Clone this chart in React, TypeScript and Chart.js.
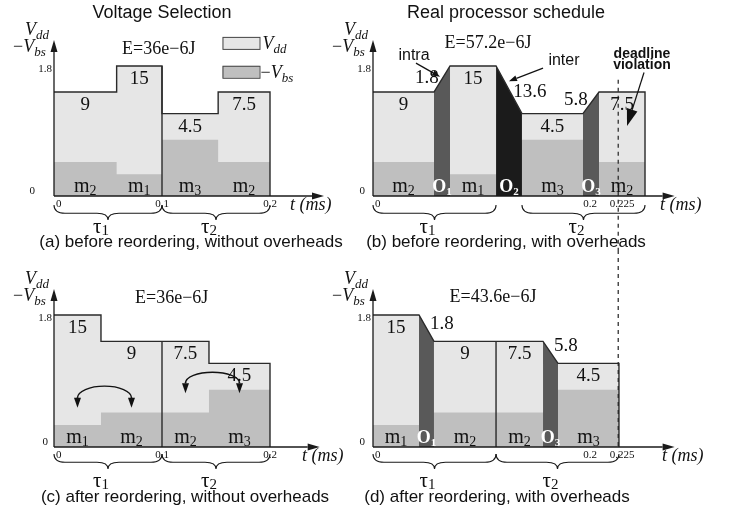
import React, { useEffect, useRef } from "react";
import { Chart, registerables } from "chart.js";
Chart.register(...registerables);

// ---------------- DATA ----------------
const modeNames = ["m1", "m2", "m3"];
const modeVdd = [1.8, 1.44, 1.14]; // Vdd level of each mode
const modeVbs = [0.3, 0.47, 0.78]; // -Vbs level of each mode

// (a) before reordering, without overheads
const aStarts = [0, 0.058, 0.1, 0.152];
const aEnds = [0.058, 0.1, 0.152, 0.2];
const aModes = ["m2", "m1", "m3", "m2"];
const aEnergies = ["9", "15", "4.5", "7.5"];
const aKinds = ["task", "task", "task", "task"];

// (b) before reordering, with overheads
const bStarts = [0, 0.0562, 0.071, 0.1134, 0.1373, 0.1935, 0.2083];
const bEnds = [0.0562, 0.071, 0.1134, 0.1373, 0.1935, 0.2083, 0.2507];
const bModes = ["m2", "O1", "m1", "O2", "m3", "O3", "m2"];
const bEnergies = ["9", "1.8", "15", "13.6", "4.5", "5.8", "7.5"];
const bKinds = ["task", "intra", "task", "inter", "task", "intra", "task"];

// (c) after reordering, without overheads
const cStarts = [0, 0.0435, 0.1, 0.1435];
const cEnds = [0.0435, 0.1, 0.1435, 0.2];
const cModes = ["m1", "m2", "m2", "m3"];
const cEnergies = ["15", "9", "7.5", "4.5"];
const cKinds = ["task", "task", "task", "task"];

// (d) after reordering, with overheads
const dStarts = [0, 0.0424, 0.0562, 0.1134, 0.1567, 0.1705];
const dEnds = [0.0424, 0.0562, 0.1134, 0.1567, 0.1705, 0.2267];
const dModes = ["m1", "O1", "m2", "m2", "O3", "m3"];
const dEnergies = ["15", "1.8", "9", "7.5", "5.8", "4.5"];
const dKinds = ["task", "intra", "task", "task", "intra", "task"];

const totalEnergies = ["E=36e\u22126J", "E=57.2e\u22126J", "E=36e\u22126J", "E=43.6e\u22126J"];
const acTicks = [0, 0.1, 0.2];
const acTickLabels = ["0", "0.1", "0.2"];
const bdTicks = [0, 0.2, 0.226];
const bdTickLabels = ["0", "0.2", "0.225"];
const yTicks = [0, 1.8];
const yTickLabels = ["0", "1.8"];
const acBraces = [[0, 0.1], [0.1, 0.2]];
const bBraces = [[0, 0.1134], [0.1373, 0.2507]];
const dBraces = [[0, 0.1134], [0.1134, 0.2267]];
const taskIds = ["1", "2"];
const acDividers = [0.1];
const dDividers = [0.1134];
const deadline = 0.226;
const cSwapPairs = [[0, 1], [2, 3]];
const cSwapEnds = [0.67, 0.87];
const cSwapTops = [0.83, 1.02];
const titles = ["Voltage Selection", "Real processor schedule"];
const captions = [
  "(a) before reordering, without overheads",
  "(b) before reordering, with overheads",
  "(c) after reordering, without overheads",
  "(d) after reordering, with overheads",
];

// ---------------- STYLE ----------------
const SERIF = '"Liberation Serif", "DejaVu Serif", serif';
const SANS = '"Liberation Sans", Arial, sans-serif';
const LIGHT = "#e6e6e6";
const MID = "#bfbfbf";
const DARK = "#595959";
const BLACK = "#1b1b1b";
const LINE = "#2a2a2a";
const TXT = "#111111";
const NONE = "rgba(0,0,0,0)";

type Panel = {
  key: string;
  starts: number[]; ends: number[]; modes: string[]; energies: string[]; kinds: string[];
  ticks: number[]; tickLabels: string[]; braces: number[][]; dividers: number[];
  energy: string; energyPos: [number, number]; caption: string; title?: string;
  box: { left: number; top: number; w: number; h: number };
  pad: { left: number; top: number; bottom: number };
  ppm: number; xMax: number; axisEnd: number; tLabelX: number;
  titleDx: number; capDx: number; capDy: number; zeroDx: number;
  braceDy: number; tauDy: number;
};

const panels: Panel[] = [
  {
    key: "a", starts: aStarts, ends: aEnds, modes: aModes, energies: aEnergies, kinds: aKinds,
    ticks: acTicks, tickLabels: acTickLabels, braces: acBraces, dividers: acDividers,
    energy: totalEnergies[0], energyPos: [0.097, 2.035], caption: captions[0], title: titles[0],
    box: { left: 0, top: 0, w: 366, h: 250 }, pad: { left: 54, top: 66, bottom: 54 },
    ppm: 1080, xMax: 0.25, axisEnd: 0.25, tLabelX: 0.2185,
    titleDx: 108, capDx: 137, capDy: 46, zeroDx: 19, braceDy: 9, tauDy: 37,
  },
  {
    key: "b", starts: bStarts, ends: bEnds, modes: bModes, energies: bEnergies, kinds: bKinds,
    ticks: bdTicks, tickLabels: bdTickLabels, braces: bBraces, dividers: [],
    energy: totalEnergies[1], energyPos: [0.106, 2.12], caption: captions[1], title: titles[1],
    box: { left: 326, top: 0, w: 407, h: 250 }, pad: { left: 47, top: 66, bottom: 54 },
    ppm: 1085, xMax: 0.28, axisEnd: 0.278, tLabelX: 0.2645,
    titleDx: 133, capDx: 133, capDy: 46, zeroDx: 8, braceDy: 9, tauDy: 37,
  },
  {
    key: "c", starts: cStarts, ends: cEnds, modes: cModes, energies: cEnergies, kinds: cKinds,
    ticks: acTicks, tickLabels: acTickLabels, braces: acBraces, dividers: acDividers,
    energy: totalEnergies[2], energyPos: [0.109, 2.03], caption: captions[2],
    box: { left: 0, top: 250, w: 366, h: 266 }, pad: { left: 54, top: 65, bottom: 69 },
    ppm: 1080, xMax: 0.25, axisEnd: 0.246, tLabelX: 0.2296,
    titleDx: 0, capDx: 131, capDy: 50, zeroDx: 6, braceDy: 7, tauDy: 40,
  },
  {
    key: "d", starts: dStarts, ends: dEnds, modes: dModes, energies: dEnergies, kinds: dKinds,
    ticks: bdTicks, tickLabels: bdTickLabels, braces: dBraces, dividers: dDividers,
    energy: totalEnergies[3], energyPos: [0.1106, 2.045], caption: captions[3],
    box: { left: 326, top: 250, w: 407, h: 266 }, pad: { left: 47, top: 65, bottom: 69 },
    ppm: 1085, xMax: 0.28, axisEnd: 0.278, tLabelX: 0.2664,
    titleDx: 0, capDx: 124, capDy: 50, zeroDx: 8, braceDy: 7, tauDy: 40,
  },
];

// ---------------- HELPERS ----------------
type Seg = { s: number; e: number; m: string; k: string; en: string };
function segsOf(p: Panel): Seg[] {
  return p.starts.map((s, i) => ({ s, e: p.ends[i], m: p.modes[i], k: p.kinds[i], en: p.energies[i] }));
}
const vddOf = (m: string) => modeVdd[modeNames.indexOf(m)];
const vbsOf = (m: string) => modeVbs[modeNames.indexOf(m)];

function buildDatasets(p: Panel): any[] {
  const segs = segsOf(p);
  const tasks = segs.filter((g) => g.k === "task");
  const vddPts = tasks.flatMap((g) => [{ x: g.s, y: vddOf(g.m) }, { x: g.e, y: vddOf(g.m) }]);
  const vbsPts = tasks.flatMap((g) => [{ x: g.s, y: vbsOf(g.m) }, { x: g.e, y: vbsOf(g.m) }]);
  const base = { pointRadius: 0, tension: 0, clip: false as any };
  const ds: any[] = [
    { ...base, data: vddPts, fill: "origin", backgroundColor: LIGHT, borderColor: NONE, borderWidth: 0, order: 5 },
    { ...base, data: vbsPts, fill: "origin", backgroundColor: MID, borderColor: NONE, borderWidth: 0, order: 4 },
  ];
  segs.forEach((g, i) => {
    if (g.k === "task") return;
    const prev = segs[i - 1];
    const next = segs[i + 1];
    ds.push({
      ...base,
      data: [{ x: g.s, y: vddOf(prev.m) }, { x: g.e, y: vddOf(next.m) }],
      fill: "origin",
      backgroundColor: g.k === "inter" ? BLACK : DARK,
      borderColor: NONE, borderWidth: 0, order: 3,
    });
  });
  const last = segs[segs.length - 1];
  ds.push({ ...base, data: [...vddPts, { x: last.e, y: 0 }], fill: false, borderColor: LINE, borderWidth: 1.4, order: 0 });
  p.dividers.forEach((x) => {
    const h = Math.max(...tasks.filter((g) => g.s === x || g.e === x).map((g) => vddOf(g.m)));
    ds.push({ ...base, data: [{ x, y: 0 }, { x, y: h }], fill: false, borderColor: LINE, borderWidth: 1.4, order: 0 });
  });
  return ds;
}

type Run = { t: string; f: string; dy?: number };
function drawRuns(ctx: CanvasRenderingContext2D, x: number, y: number, runs: Run[], align: string, color: string) {
  let w = 0;
  for (const r of runs) { ctx.font = r.f; w += ctx.measureText(r.t).width; }
  let cx = align === "left" ? x : align === "center" ? x - w / 2 : x - w;
  ctx.fillStyle = color;
  ctx.textAlign = "left";
  ctx.textBaseline = "alphabetic";
  for (const r of runs) {
    ctx.font = r.f;
    ctx.fillText(r.t, cx, y + (r.dy || 0));
    cx += ctx.measureText(r.t).width;
  }
}
function text(ctx: CanvasRenderingContext2D, s: string, x: number, y: number, font: string, align: CanvasTextAlign = "center", color = TXT) {
  ctx.font = font; ctx.fillStyle = color; ctx.textAlign = align; ctx.textBaseline = "middle";
  ctx.fillText(s, x, y);
}
function arrow(ctx: CanvasRenderingContext2D, x1: number, y1: number, x2: number, y2: number, L: number, W: number) {
  const a = Math.atan2(y2 - y1, x2 - x1);
  const bx = x2 - L * Math.cos(a), by = y2 - L * Math.sin(a);
  ctx.beginPath(); ctx.moveTo(x1, y1); ctx.lineTo(bx, by); ctx.stroke();
  ctx.beginPath(); ctx.moveTo(x2, y2);
  ctx.lineTo(bx - W * Math.sin(a), by + W * Math.cos(a));
  ctx.lineTo(bx + W * Math.sin(a), by - W * Math.cos(a));
  ctx.closePath(); ctx.fill();
}
function brace(ctx: CanvasRenderingContext2D, x1: number, x2: number, y0: number, h: number) {
  const xm = (x1 + x2) / 2, ym = y0 + h * 0.55, r = Math.min(11, (x2 - x1) / 6);
  ctx.beginPath();
  ctx.moveTo(x1, y0);
  ctx.quadraticCurveTo(x1, ym, x1 + r, ym);
  ctx.lineTo(xm - r, ym);
  ctx.quadraticCurveTo(xm, ym, xm, y0 + h);
  ctx.quadraticCurveTo(xm, ym, xm + r, ym);
  ctx.lineTo(x2 - r, ym);
  ctx.quadraticCurveTo(x2, ym, x2, y0);
  ctx.stroke();
}

function drawDecor(chart: any, p: Panel) {
  const ctx: CanvasRenderingContext2D = chart.ctx;
  const X = (v: number) => chart.scales.x.getPixelForValue(v);
  const Y = (v: number) => chart.scales.y.getPixelForValue(v);
  const x0 = X(0), y0 = Y(0), yt = Y(1.8);
  const segs = segsOf(p);
  ctx.save();

  // deadline
  if (p.key === "b" || p.key === "d") {
    ctx.strokeStyle = "#222"; ctx.lineWidth = 1.2; ctx.setLineDash([4, 4]);
    ctx.beginPath();
    if (p.key === "b") { ctx.moveTo(X(deadline), Y(1.61)); ctx.lineTo(X(deadline), p.box.h); }
    else { ctx.moveTo(X(deadline), 0); ctx.lineTo(X(deadline), y0); }
    ctx.stroke(); ctx.setLineDash([]);
  }

  // axes
  ctx.strokeStyle = "#1a1a1a"; ctx.fillStyle = "#1a1a1a"; ctx.lineWidth = 1.3;
  arrow(ctx, x0, y0, X(p.axisEnd), y0, 12, 3.5);
  arrow(ctx, x0, y0, x0, yt - 26, 12, 3.5);

  // tick labels
  const tickF = `11px ${SERIF}`;
  p.ticks.forEach((v, i) => {
    if (v === 0) text(ctx, p.tickLabels[i], x0 + 2, y0 + 8, tickF, "left");
    else text(ctx, p.tickLabels[i], X(v) + (i === 2 && p.tickLabels[i].length > 3 ? 4 : 0), y0 + 8, tickF, "center");
  });
  yTicks.forEach((v, i) => {
    if (v === 0) text(ctx, yTickLabels[i], x0 - p.zeroDx, y0 - 5, tickF, "right");
    else text(ctx, yTickLabels[i], x0 - 2, Y(v) + 3, tickF, "right");
  });

  // axis titles
  const it18 = `italic 18px ${SERIF}`, it13 = `italic 13px ${SERIF}`;
  drawRuns(ctx, x0 - 29, yt - 31, [{ t: "V", f: it18 }, { t: "dd", f: it13, dy: 4 }], "left", TXT);
  drawRuns(ctx, x0 - 41, yt - 14, [{ t: "\u2212", f: `18px ${SERIF}` }, { t: "V", f: it18 }, { t: "bs", f: it13, dy: 4 }], "left", TXT);
  text(ctx, "t (ms)", X(p.tLabelX), y0 + 9, `italic 18px ${SERIF}`, "left");

  // segment labels
  segs.forEach((g, i) => {
    const xm = X((g.s + g.e) / 2);
    if (g.k === "task") {
      text(ctx, g.en, xm, Y(vddOf(g.m)) + 13, `19px ${SERIF}`);
      drawRuns(ctx, xm, y0 - 4, [{ t: "m", f: `20px ${SERIF}` }, { t: g.m.slice(1), f: `14px ${SERIF}`, dy: 3 }], "center", TXT);
    } else {
      const pv = vddOf(segs[i - 1].m), nv = vddOf(segs[i + 1].m);
      if (nv < pv) text(ctx, g.en, X(g.e) + 8, Y(nv) - (g.k === "inter" ? 22 : 17), `19px ${SERIF}`);
      else text(ctx, g.en, X(g.s) - 7, Y(pv) - 14, `19px ${SERIF}`);
      drawRuns(ctx, xm, y0 - 4, [{ t: "O", f: `bold 18px ${SERIF}` }, { t: g.m.slice(1), f: `bold 11px ${SERIF}`, dy: 3 }], "center", "#ffffff");
    }
  });

  // braces
  ctx.strokeStyle = "#1a1a1a"; ctx.lineWidth = 1.1;
  p.braces.forEach((b, i) => {
    const xa = X(b[0]), xb = X(b[1]);
    brace(ctx, xa, xb, y0 + p.braceDy, 15);
    const xm = (xa + xb) / 2;
    drawRuns(ctx, xm - 15, y0 + p.tauDy, [{ t: "\u03c4", f: `21px ${SERIF}` }, { t: taskIds[i], f: `15px ${SERIF}`, dy: 2 }], "left", TXT);
  });

  // energy total
  text(ctx, p.energy, X(p.energyPos[0]), Y(p.energyPos[1]), `18px ${SERIF}`);

  // title / caption
  if (p.title) text(ctx, p.title, x0 + p.titleDx, 13, `18px ${SANS}`);
  text(ctx, p.caption, x0 + p.capDx, y0 + p.capDy, `17px ${SANS}`);

  // legend (a)
  if (p.key === "a") {
    const lx = X(0.156);
    const rows = [Y(2.12), Y(1.72)];
    ctx.lineWidth = 1; ctx.strokeStyle = "#444";
    [LIGHT, MID].forEach((c, i) => {
      ctx.fillStyle = c;
      ctx.fillRect(lx, rows[i] - 6, 37, 12);
      ctx.strokeRect(lx + 0.5, rows[i] - 5.5, 37, 12);
    });
    drawRuns(ctx, lx + 40, rows[0] + 6, [{ t: "V", f: it18 }, { t: "dd", f: it13, dy: 4 }], "left", TXT);
    drawRuns(ctx, lx + 38, rows[1] + 6, [{ t: "\u2212", f: `18px ${SERIF}` }, { t: "V", f: it18 }, { t: "bs", f: it13, dy: 4 }], "left", TXT);
  }

  // annotations (b)
  if (p.key === "b") {
    ctx.strokeStyle = "#111"; ctx.fillStyle = "#111"; ctx.lineWidth = 1.2;
    text(ctx, "intra", X(0.0378), Y(1.95), `16px ${SANS}`);
    ctx.fillStyle = "#111";
    arrow(ctx, X(0.0396), Y(1.84), X(0.0618), Y(1.65), 8, 3);
    text(ctx, "inter", X(0.176), Y(1.87), `16px ${SANS}`);
    ctx.fillStyle = "#111";
    arrow(ctx, X(0.1567), Y(1.77), X(0.1253), Y(1.59), 8, 3);
    text(ctx, "deadline", X(0.2479), Y(1.96), `bold 14px ${SANS}`);
    text(ctx, "violation", X(0.2479), Y(1.81), `bold 14px ${SANS}`);
    ctx.fillStyle = "#111";
    arrow(ctx, X(0.2498), Y(1.71), X(0.2341), Y(0.97), 17, 5.5);
  }

  // swap arcs (c)
  if (p.key === "c") {
    ctx.strokeStyle = "#111"; ctx.fillStyle = "#111"; ctx.lineWidth = 1.4;
    cSwapPairs.forEach((pr, i) => {
      const xl = X((segs[pr[0]].s + segs[pr[0]].e) / 2);
      const xr = X((segs[pr[1]].s + segs[pr[1]].e) / 2);
      const ye = Y(cSwapEnds[i]), ytop = Y(cSwapTops[i]);
      ctx.beginPath();
      ctx.ellipse((xl + xr) / 2, ye, (xr - xl) / 2, ye - ytop, 0, Math.PI, 2 * Math.PI);
      ctx.stroke();
      arrow(ctx, xl, ye - 1, xl, ye + 10, 10, 3.5);
      arrow(ctx, xr, ye - 1, xr, ye + 10, 10, 3.5);
    });
  }
  ctx.restore();
}

function PanelChart({ p }: { p: Panel }) {
  const ref = useRef<HTMLCanvasElement>(null);
  useEffect(() => {
    if (!ref.current) return;
    const chart = new Chart(ref.current, {
      type: "line",
      data: { datasets: buildDatasets(p) },
      options: {
        responsive: false,
        animation: false,
        devicePixelRatio: 1,
        events: [],
        layout: {
          padding: {
            left: p.pad.left,
            right: p.box.w - p.pad.left - p.xMax * p.ppm,
            top: p.pad.top,
            bottom: p.pad.bottom,
          },
        },
        scales: {
          x: { type: "linear", min: 0, max: p.xMax, display: false },
          y: { type: "linear", min: 0, max: 1.8, display: false },
        },
        plugins: { legend: { display: false }, tooltip: { enabled: false } },
      },
      plugins: [{ id: "decor" + p.key, afterDraw: (c: any) => drawDecor(c, p) }],
    } as any);
    return () => chart.destroy();
  }, []);
  return (
    <canvas
      ref={ref}
      width={p.box.w}
      height={p.box.h}
      style={{ position: "absolute", left: p.box.left, top: p.box.top, width: p.box.w, height: p.box.h }}
    />
  );
}

export default function App() {
  return (
    <div style={{ position: "fixed", left: 0, top: 0, width: 733, height: 516, background: "#ffffff", overflow: "hidden" }}>
      {panels.map((p) => (
        <PanelChart key={p.key} p={p} />
      ))}
    </div>
  );
}
